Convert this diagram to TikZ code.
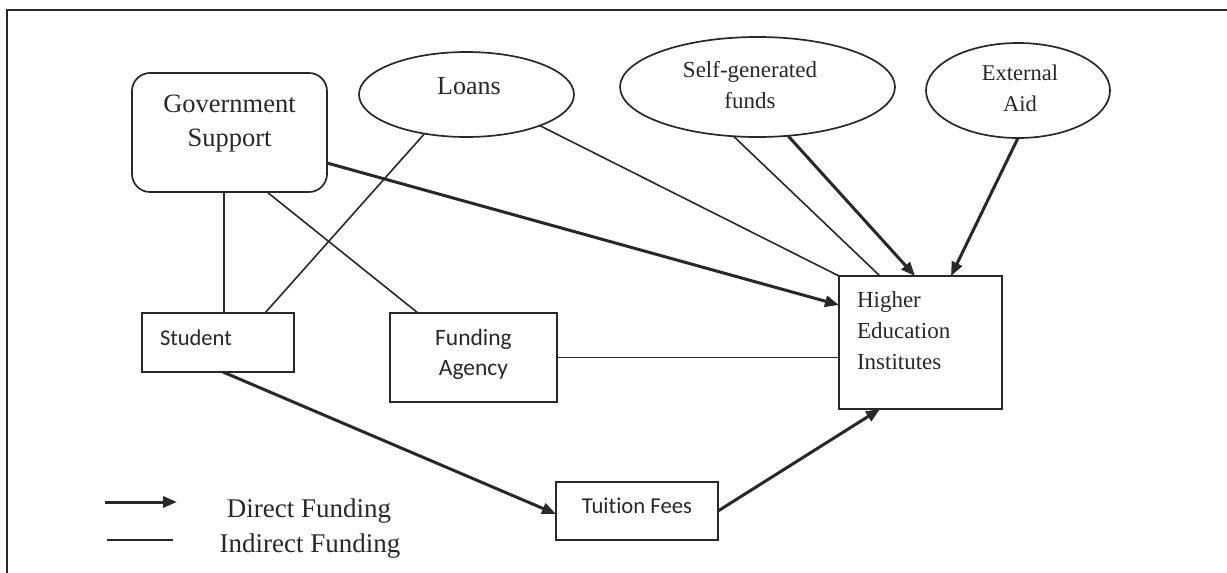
\documentclass[tikz,border=0pt]{standalone}
\usepackage{fontspec}
\setmainfont{Liberation Serif}
\newfontfamily\calib[Ligatures=NoCommon]{Carlito}
\usetikzlibrary{arrows.meta,shapes.geometric}
\definecolor{ink}{HTML}{282828}
\begin{document}
\begin{tikzpicture}[x=1pt,y=-1pt,
  every node/.style={text=ink},
  box/.style={draw=ink,line width=1.7pt,inner sep=0pt,outer sep=0pt},
  oval/.style={draw=ink,ellipse,line width=1.7pt,inner sep=0pt,outer sep=0pt},
  thinline/.style={draw=ink,line width=1.6pt},
  direct/.style={draw=ink,line width=3pt,-{Triangle[length=14pt,width=11pt]}},
  legendtext/.style={anchor=base,inner sep=0pt,font=\fontsize{27}{33}\selectfont}
]
\useasboundingbox (0,0) rectangle (1227,573);
\fill[white] (0,0) rectangle (1227,573);
\draw[ink,line width=1.8pt] (7,573) -- (7,10) -- (1227,10);

% nodes
\node[box,rounded corners=18pt] (gov) at (229.5,132.5)
  {\parbox[c][119pt][t]{195pt}{\centering\fontsize{26.5}{33.3}\selectfont\rule{0pt}{39.7pt}Government\\Support}};
\node[oval,minimum width=215pt,minimum height=85pt] (loans) at (466.5,94.5)
  {\raisebox{0.5pt}[0pt][0pt]{\makebox[0pt]{\hspace*{5pt}\fontsize{26}{32}\selectfont Loans}}};
\node[oval,minimum width=275pt,minimum height=100pt] (selfgen) at (757.5,87)
  {\raisebox{-21pt}[0pt][0pt]{\makebox[0pt]{\hspace*{-15pt}\fontsize{23}{31}\selectfont\begin{tabular}[b]{@{}c@{}}Self-generated\\funds\end{tabular}}}};
\node[oval,minimum width=184pt,minimum height=95pt] (external) at (1018,90.5)
  {\raisebox{-20.5pt}[0pt][0pt]{\makebox[0pt]{\hspace*{4pt}\fontsize{22.5}{31}\selectfont\begin{tabular}[b]{@{}c@{}}External\\Aid\end{tabular}}}};
\node[box] (student) at (218,342.5)
  {\parbox[c][59pt][t]{152pt}{\raggedright\leftskip=18pt\calib\fontsize{22.5}{28}\selectfont\rule{0pt}{32pt}Student}};
\node[box] (funding) at (473.5,357.5)
  {\parbox[c][89pt][t]{167pt}{\centering\calib\fontsize{23.5}{30}\selectfont\rule{0pt}{32pt}Funding\\Agency}};
\node[box] (hei) at (920.5,342.5)
  {\parbox[c][133pt][t]{163pt}{\raggedright\leftskip=18pt\fontsize{23}{31}\selectfont\rule{0pt}{31pt}Higher\\Education\\Institutes}};
\node[box] (tuition) at (637,511)
  {\parbox[c][58pt][t]{162pt}{\centering\calib\fontsize{22.7}{28}\selectfont\rule{0pt}{31pt}Tuition Fees}};

% indirect funding
\draw[thinline] ([xshift=-5.5pt]gov.south) -- ([xshift=-5.5pt]gov.south |- student.north);
\draw[thinline] ([xshift=135pt]gov.south west) -- ([xshift=28pt]funding.north west);
\draw[thinline] (loans.223) -- ([xshift=123pt]student.north west);
\draw[thinline] (loans.337) -- (hei.north west);
\draw[thinline] (selfgen.244) -- ([xshift=41pt]hei.north west);
\draw[thinline] (funding.east) -- (funding.east -| hei.west);

% direct funding
\draw[direct] ([yshift=-30.5pt]gov.east) -- ([yshift=-29pt]hei.north west);
\draw[direct] (selfgen.302) -- ([xshift=76pt]hei.north west);
\draw[direct] (external.south) -- ([xshift=112pt]hei.north west);
\draw[direct] ([xshift=5pt]student.south) -- ([yshift=-3pt]tuition.west);
\draw[direct] (tuition.east) -- ([xshift=41pt]hei.south west);

% legend
\coordinate (d1) at (105,502);
\coordinate (d2) at (177,502);
\coordinate (i1) at (107,540);
\coordinate (i2) at (173,540);
\draw[direct] (d1) -- (d2);
\draw[thinline] (i1) -- (i2);
\node[legendtext] (ldirect) at (309,517) {Direct Funding};
\node[legendtext] (lindirect) at (310,552) {Indirect Funding};
\end{tikzpicture}
\end{document}
